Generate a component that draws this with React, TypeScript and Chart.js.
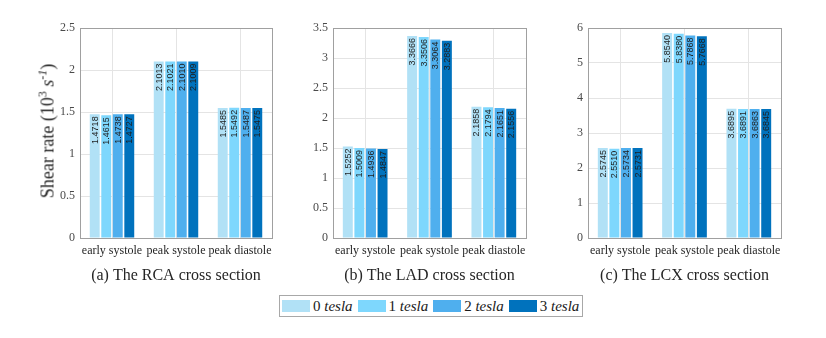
import React, { useEffect, useRef } from "react";
import { Chart, registerables } from "chart.js";
Chart.register(...registerables);

const categories = ["early systole", "peak systole", "peak diastole"];
const seriesLabels = ["0 tesla", "1 tesla", "2 tesla", "3 tesla"];
const seriesColors = ["#B1E1F6", "#7ED7FD", "#4FAFEE", "#0072BD"];

const rcaT0 = [1.4718, 2.1013, 1.5485];
const rcaT1 = [1.4615, 2.1021, 1.5492];
const rcaT2 = [1.4738, 2.101, 1.5487];
const rcaT3 = [1.4727, 2.1009, 1.5475];

const ladT0 = [1.5252, 3.3666, 2.1858];
const ladT1 = [1.5009, 3.3506, 2.1794];
const ladT2 = [1.4936, 3.3064, 2.1651];
const ladT3 = [1.4847, 3.2883, 2.1556];

const lcxT0 = [2.5745, 5.854, 3.6895];
const lcxT1 = [2.551, 5.838, 3.6891];
const lcxT2 = [2.5734, 5.7868, 3.6863];
const lcxT3 = [2.5731, 5.7668, 3.6845];

const rcaTicks = { max: 2.5, step: 0.5 };
const ladTicks = { max: 3.5, step: 0.5 };
const lcxTicks = { max: 6, step: 1 };

const SERIF = "'Liberation Serif', 'DejaVu Serif', serif";
const SANS = "'Liberation Sans', Arial, sans-serif";

const frameAndLabels = {
  id: "frameAndLabels",
  afterDatasetsDraw(chart: any) {
    const { ctx, chartArea } = chart;
    ctx.save();
    ctx.font = `9px ${SANS}`;
    ctx.fillStyle = "#1e1e1e";
    ctx.textAlign = "right";
    ctx.textBaseline = "middle";
    chart.data.datasets.forEach((ds: any, di: number) => {
      const meta = chart.getDatasetMeta(di);
      meta.data.forEach((bar: any, i: number) => {
        const v = ds.data[i];
        ctx.save();
        ctx.translate(bar.x + 0.5, bar.y + 2);
        ctx.rotate(-Math.PI / 2);
        ctx.fillText(v.toFixed(4), 0, 0);
        ctx.restore();
      });
    });
    ctx.restore();
    ctx.save();
    ctx.strokeStyle = "#a0a0a0";
    ctx.lineWidth = 1;
    ctx.strokeRect(
      Math.round(chartArea.left) + 0.5,
      Math.round(chartArea.top) + 0.5,
      Math.round(chartArea.right - chartArea.left),
      Math.round(chartArea.bottom - chartArea.top)
    );
    ctx.restore();
  },
};

type PanelProps = {
  left: number;
  width: number;
  yWidth: number;
  padRight: number;
  title: string;
  values: number[][];
  ticks: { max: number; step: number };
};

function Panel({ left, width, yWidth, padRight, title, values, ticks }: PanelProps) {
  const ref = useRef<HTMLCanvasElement>(null);
  useEffect(() => {
    if (!ref.current) return;
    const chart = new Chart(ref.current, {
      type: "bar",
      data: {
        labels: categories,
        datasets: values.map((vals, i) => ({
          label: seriesLabels[i],
          data: vals,
          backgroundColor: seriesColors[i],
          borderWidth: 0,
          categoryPercentage: 0.72,
          barPercentage: 0.86,
        })),
      },
      options: {
        responsive: false,
        animation: false,
        devicePixelRatio: 1,
        layout: { padding: { top: 28, right: padRight, bottom: 0, left: 0 } },
        plugins: { legend: { display: false }, tooltip: { enabled: false } },
        scales: {
          x: {
            grid: { display: true, offset: false, color: "#e4e4e4", drawTicks: false },
            border: { display: false },
            ticks: { font: { family: SERIF, size: 12 }, color: "#262626", padding: 6, maxRotation: 0, autoSkip: false },
            title: {
              display: true,
              text: title,
              font: { family: SERIF, size: 16 },
              color: "#262626",
              padding: { top: 0, bottom: 5 },
            },
            afterFit: (s: any) => {
              s.height = 52;
            },
          },
          y: {
            min: 0,
            max: ticks.max,
            grid: { color: "#e4e4e4", drawTicks: false },
            border: { display: false },
            ticks: {
              stepSize: ticks.step,
              font: { family: SERIF, size: 12 },
              color: "#4a4a4a",
              padding: 5,
              callback: (v: any) => String(Number(Number(v).toFixed(2))),
            },
            afterFit: (s: any) => {
              s.width = yWidth;
            },
          },
        },
      },
      plugins: [frameAndLabels],
    });
    return () => chart.destroy();
  }, []);
  return (
    <canvas
      ref={ref}
      width={width}
      height={290}
      style={{ position: "absolute", left, top: 0, width, height: 290 }}
    />
  );
}

export default function App() {
  const legendItem = (i: number) => (
    <div key={i} style={{ display: "flex", alignItems: "center", marginRight: i < 3 ? 5 : 0 }}>
      <div style={{ width: 28, height: 12, background: seriesColors[i], marginRight: 3 }} />
      <span style={{ fontFamily: SERIF, fontSize: 15, color: "#1a1a1a", whiteSpace: "nowrap" }}>
        {seriesLabels[i].split(" ")[0]} <i>{seriesLabels[i].split(" ")[1]}</i>
      </span>
    </div>
  );
  return (
    <div style={{ position: "absolute", left: 0, top: 0, width: 826, height: 338, background: "#fff", overflow: "hidden" }}>
      <Panel left={0} width={280} yWidth={80} padRight={8} title="(a) The RCA cross section" values={[rcaT0, rcaT1, rcaT2, rcaT3]} ticks={rcaTicks} />
      <Panel left={290} width={250} yWidth={43} padRight={14} title="(b) The LAD cross section" values={[ladT0, ladT1, ladT2, ladT3]} ticks={ladTicks} />
      <Panel left={550} width={250} yWidth={38} padRight={19} title="(c) The LCX cross section" values={[lcxT0, lcxT1, lcxT2, lcxT3]} ticks={lcxTicks} />
      <div
        style={{
          position: "absolute",
          left: 47,
          top: 131,
          transform: "translate(-50%, -50%) rotate(-90deg)",
          fontFamily: SERIF,
          fontSize: 18,
          color: "#262626",
          whiteSpace: "nowrap",
        }}
      >
        Shear rate (10<sup style={{ fontSize: 12 }}>3</sup> <i>s</i>
        <sup style={{ fontSize: 12 }}><i>-1</i></sup>)
      </div>
      <div
        style={{
          position: "absolute",
          left: 279,
          top: 295,
          width: 304,
          height: 22,
          boxSizing: "border-box",
          border: "1px solid #a8a8a8",
          display: "flex",
          alignItems: "center",
          paddingLeft: 2,
        }}
      >
        {[0, 1, 2, 3].map(legendItem)}
      </div>
    </div>
  );
}
